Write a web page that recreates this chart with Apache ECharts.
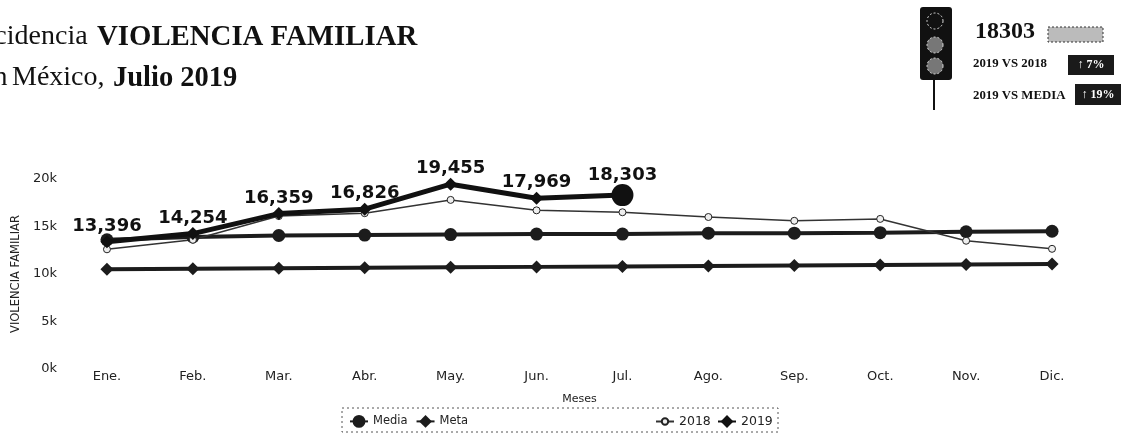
<!DOCTYPE html>
<html>
<head>
<meta charset="utf-8">
<style>
  html, body { margin: 0; padding: 0; background: #fff; }
  #chart { width: 1122px; height: 433px; }
</style>
<script src="https://cdn.jsdelivr.net/npm/echarts@6/dist/echarts.min.js"></script>
</head>
<body>
<div id="chart"></div>
<script>
var meses = ['Ene.', 'Feb.', 'Mar.', 'Abr.', 'May.', 'Jun.', 'Jul.', 'Ago.', 'Sep.', 'Oct.', 'Nov.', 'Dic.'];
var media = [13600, 13900, 14050, 14100, 14150, 14200, 14200, 14300, 14300, 14350, 14450, 14500];
var meta = [10500, 10550, 10600, 10650, 10700, 10750, 10800, 10850, 10900, 10950, 11000, 11050];
var serie2018 = [12600, 13600, 16100, 16400, 17800, 16700, 16500, 16000, 15600, 15800, 13500, 12650];
var serie2019 = [13396, 14254, 16359, 16826, 19455, 17969, 18303];

var INK = '#1c1c1c';
var SERIF = '"Liberation Serif", serif';
var SANS = '"DejaVu Sans", sans-serif';

var chart = echarts.init(document.getElementById('chart'));

// la linea 2019 termina en Jul. con un punto mas grande
var datos2019 = serie2019.map(function (v, i) {
    return i === serie2019.length - 1 ? {value: v, symbol: 'circle', symbolSize: 22} : v;
});

function texto(x, y, str, font) {
    return {
        type: 'text', left: x, top: y,
        style: {text: str, font: font, fill: '#111'}
    };
}

function foco(cy, fill) {
    return {type: 'circle', shape: {cx: 935, cy: cy, r: 8}, style: {fill: fill, stroke: '#ddd', lineWidth: 1, lineDash: [2, 2]}};
}

function insignia(x, y, w, h, str) {
    return {
        type: 'rect', shape: {x: x, y: y, width: w, height: h},
        style: {fill: '#1a1a1a'},
        textContent: {style: {text: str, fill: '#fff', font: 'bold 12px ' + SERIF}},
        textConfig: {position: 'inside'}
    };
}

function leyenda(x, alto, nombres, size) {
    return {
        left: x, top: 415, itemWidth: 18, itemHeight: alto, itemGap: 8,
        padding: 0,
        data: nombres,
        textStyle: {fontFamily: SANS, fontSize: size, color: '#222'}
    };
}

chart.setOption({
    animation: false,
    grid: {left: 64, right: 27, top: 179, bottom: 64, outerBoundsMode: 'none'},
    xAxis: {
        type: 'category',
        data: meses,
        name: 'Meses',
        nameLocation: 'middle',
        nameGap: 25,
        nameTextStyle: {fontFamily: SANS, fontSize: 11, color: '#222'},
        axisLine: {show: false},
        axisTick: {show: false},
        axisLabel: {margin: 1, fontFamily: SANS, fontSize: 13, color: '#222'}
    },
    yAxis: {
        type: 'value',
        min: 0,
        max: 20000,
        interval: 5000,
        name: 'VIOLENCIA FAMILIAR',
        nameLocation: 'middle',
        nameGap: 41,
        nameTextStyle: {fontFamily: SANS, fontSize: 11.5, color: '#222'},
        splitLine: {show: false},
        axisLabel: {
            margin: 7, fontFamily: SANS, fontSize: 13, color: '#222',
            formatter: function (v) { return v / 1000 + 'k'; }
        }
    },
    legend: [
        leyenda(349, 16, ['Media', 'Meta'], 11.5),
        leyenda(655, 8, ['2018'], 12.5),
        leyenda(717, 16, ['2019'], 12.5)
    ],
    series: [
        {
            name: 'Media', type: 'line', data: media,
            symbol: 'circle', symbolSize: 13,
            lineStyle: {color: INK, width: 4}, itemStyle: {color: INK}
        },
        {
            name: 'Meta', type: 'line', data: meta,
            symbol: 'diamond', symbolSize: 13,
            lineStyle: {color: INK, width: 4}, itemStyle: {color: INK}
        },
        {
            name: '2018', type: 'line', data: serie2018,
            symbol: 'circle', symbolSize: 7,
            lineStyle: {color: '#333', width: 1.5},
            itemStyle: {color: '#eee', borderColor: '#222', borderWidth: 1}
        },
        {
            name: '2019', type: 'line', data: datos2019,
            symbol: 'diamond', symbolSize: 13,
            lineStyle: {color: '#111', width: 5}, itemStyle: {color: '#111'},
            label: {
                show: true, position: 'top', distance: 0,
                fontFamily: SANS, fontWeight: 'bold', fontSize: 18, color: '#111',
                formatter: function (p) { return p.value.toLocaleString('en-US'); }
            },
            z: 5
        }
    ],
    graphic: [
        texto(-29, 23, 'Incidencia', '28px ' + SERIF),
        texto(97, 23, 'VIOLENCIA FAMILIAR', 'bold 28.8px ' + SERIF),
        texto(-19, 64, 'en', '28px ' + SERIF),
        texto(12, 64, 'México,', '28px ' + SERIF),
        texto(113, 64, 'Julio 2019', 'bold 28.5px ' + SERIF),
        // semaforo
        {type: 'rect', shape: {x: 933, y: 78, width: 2, height: 32}, style: {fill: '#111'}},
        {type: 'rect', shape: {x: 920, y: 7, width: 32, height: 73, r: 3}, style: {fill: '#111'}},
        foco(21, '#111'),
        foco(45, '#777'),
        foco(66, '#777'),
        // indicadores
        texto(975, 20, '18303', 'bold 24px ' + SERIF),
        {type: 'rect', shape: {x: 1048, y: 27, width: 55, height: 15}, style: {fill: '#bbb', stroke: '#333', lineWidth: 1, lineDash: [2, 2]}},
        texto(973, 57, '2019 VS 2018', 'bold 12.8px ' + SERIF),
        insignia(1068, 55, 46, 20, '↑ 7%'),
        texto(973, 89, '2019 VS MEDIA', 'bold 12.8px ' + SERIF),
        insignia(1075, 84, 46, 21, '↑ 19%'),
        // marco de la leyenda
        {
            type: 'rect', shape: {x: 342, y: 408, width: 436, height: 24},
            style: {fill: 'none', stroke: '#555', lineWidth: 1, lineDash: [2, 3]}
        }
    ]
});
</script>
</body>
</html>
